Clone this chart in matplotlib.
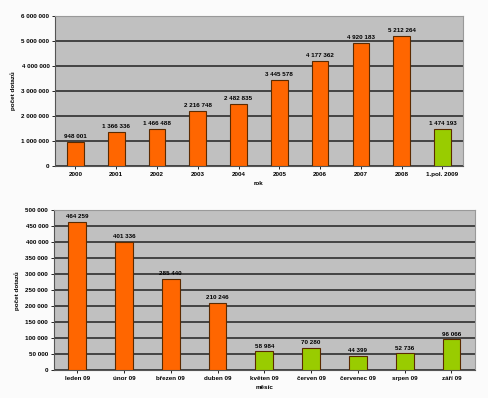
import matplotlib
matplotlib.use("Agg")
import matplotlib.pyplot as plt
import numpy as np

plt.rcParams['font.family'] = ['Liberation Sans', 'DejaVu Sans']

# yearly data
years = ["2000", "2001", "2002", "2003", "2004", "2005", "2006", "2007", "2008", "1.pol. 2009"]
year_vals = [948001, 1366336, 1466488, 2216748, 2482835, 3445578, 4177362, 4920183, 5212264, 1474193]
year_lbls = ["948 001", "1 366 336", "1 466 488", "2 216 748", "2 482 835", "3 445 578",
             "4 177 362", "4 920 183", "5 212 264", "1 474 193"]

# monthly data 2009
months = ["leden 09", "únor 09", "březen 09", "duben 09", "květen 09", "červen 09",
          "červenec 09", "srpen 09", "září 09"]
month_vals = [464259, 401336, 285440, 210246, 58984, 70280, 44399, 52736, 96066]
month_lbls = ["464 259", "401 336", "285 440", "210 246", "58 984", "70 280",
              "44 399", "52 736", "96 066"]

ORANGE = "#ff6600"
GREEN = "#99cc00"
BG = "#c0c0c0"


def fmt(v):
    return "{:,}".format(int(v)).replace(",", " ")


def style_ax(ax, ymax, step, cats, xlabel):
    ax.set_facecolor(BG)
    ax.set_ylim(0, ymax)
    ax.set_yticks(np.arange(0, ymax + 1, step))
    ax.set_yticklabels([fmt(t) for t in np.arange(0, ymax + 1, step)], fontsize=4.5, fontweight='bold')
    ax.set_xlim(-0.5, len(cats) - 0.5)
    ax.set_xticks(range(len(cats)))
    ax.set_xticklabels(cats, fontsize=4.5, fontweight='bold')
    ax.yaxis.grid(True, color="#222222", linewidth=1.1)
    ax.set_axisbelow(True)
    for s in ["top", "right"]:
        ax.spines[s].set_color("#999999")
    for s in ["left", "bottom"]:
        ax.spines[s].set_color("#555555")
    ax.tick_params(axis='both', length=2, width=0.6, pad=2)
    ax.set_xlabel(xlabel, fontsize=4.5, fontweight='bold', labelpad=3)
    ax.set_ylabel("počet dotazů", fontsize=4.5, fontweight='bold', labelpad=4)


fig = plt.figure(figsize=(4.89, 3.98), dpi=100)
fig.patch.set_facecolor("#fbfbfb")

# top chart
ax1 = fig.add_axes([0.1125, 0.583, 0.834, 0.377])
cols1 = [ORANGE] * 9 + [GREEN]
ax1.bar(range(len(years)), year_vals, width=0.41, color=cols1, edgecolor="#5a2a00", linewidth=0.8, zorder=3)
for i, (v, l) in enumerate(zip(year_vals, year_lbls)):
    ax1.text(i, v + 120000, l, ha='center', va='bottom', fontsize=4.5, fontweight='bold')
style_ax(ax1, 6000000, 1000000, years, "rok")

# bottom chart
ax2 = fig.add_axes([0.110, 0.070, 0.861, 0.402])
cols2 = [ORANGE] * 4 + [GREEN] * 5
ax2.bar(range(len(months)), month_vals, width=0.38, color=cols2, edgecolor="#5a2a00", linewidth=0.8, zorder=3)
for i, (v, l) in enumerate(zip(month_vals, month_lbls)):
    ax2.text(i, v + 8000, l, ha='center', va='bottom', fontsize=4.5, fontweight='bold')
style_ax(ax2, 500000, 50000, months, "měsíc")

fig.savefig("out.png", dpi=100, facecolor=fig.get_facecolor())
